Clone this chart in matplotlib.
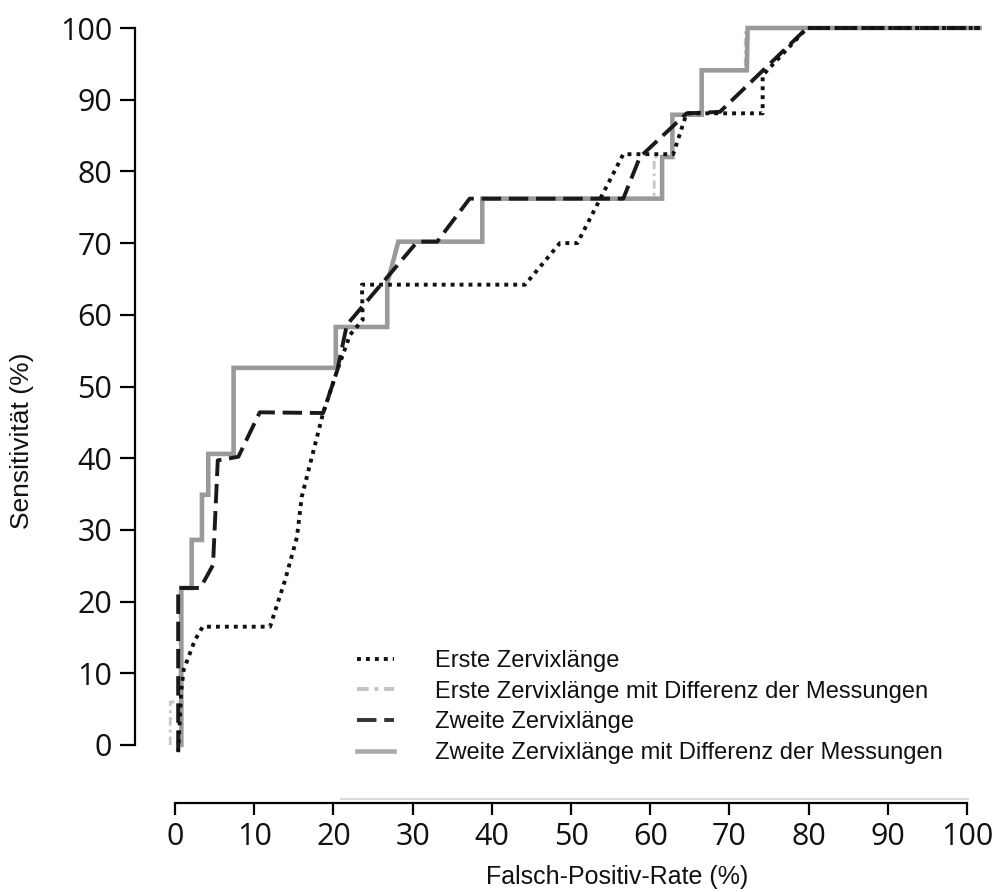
import matplotlib
matplotlib.use("Agg")
import matplotlib.pyplot as plt
from matplotlib.lines import Line2D

# ---- data (False-positive rate %, sensitivity %) ----
erste_x = [0.4, 0.8, 1.1, 2.5, 3.5, 12.0, 13.9, 15.4, 16.0, 18.7, 20.5, 22.1, 23.7, 23.6,
           44.2, 48.6, 50.8, 56.6, 62.9, 64.6, 74.2, 74.2, 79.8, 101.6]
erste_y = [-1.0, 7.7, 10.5, 14.6, 16.5, 16.5, 23.0, 29.0, 34.6, 46.3, 52.3, 57.2, 59.3, 64.2,
           64.2, 70.0, 70.0, 82.4, 82.4, 88.1, 88.1, 93.4, 100.0, 100.0]

erste_diff_x = [-0.6, -0.6, 0.6, 0.6, 2.1, 2.1, 3.4, 3.4, 4.2, 4.2, 7.4, 7.4, 20.3, 20.3,
                26.8, 26.8, 28.2, 38.8, 38.8, 60.5, 60.5, 62.8, 62.8, 66.5, 66.5, 72.0,
                72.0, 101.6]
erste_diff_y = [0.0, 6.0, 6.0, 21.9, 21.9, 28.6, 28.6, 34.9, 34.9, 40.6, 40.6, 52.6, 52.6,
                58.3, 58.3, 64.4, 70.2, 70.2, 76.2, 76.2, 82.0, 82.0, 87.9, 87.9, 94.1,
                94.1, 100.0, 100.0]

zweite_x = [0.4, 0.4, 3.2, 4.8, 5.4, 8.0, 10.7, 18.7, 20.5, 21.7, 30.6, 33.1, 37.2, 56.6,
            58.7, 64.6, 68.8, 79.8, 101.6]
zweite_y = [-0.7, 21.9, 21.9, 25.1, 39.7, 40.2, 46.4, 46.3, 52.3, 58.6, 70.2, 70.2, 76.2,
            76.2, 82.0, 88.1, 88.3, 100.0, 100.0]

zweite_diff_x = [0.8, 0.8, 2.1, 2.1, 3.4, 3.4, 4.2, 4.2, 7.4, 7.4, 20.3, 20.3, 26.8, 26.8,
                 28.2, 38.8, 38.8, 61.5, 61.5, 62.8, 62.8, 66.5, 66.5, 72.2, 72.3, 101.6]
zweite_diff_y = [0.0, 21.9, 21.9, 28.6, 28.6, 34.9, 34.9, 40.6, 40.6, 52.6, 52.6, 58.3,
                 58.3, 64.4, 70.2, 70.2, 76.2, 76.2, 82.0, 82.0, 87.9, 87.9, 94.1, 94.1,
                 100.0, 100.0]

labels = ["Erste Zervixlänge",
          "Erste Zervixlänge mit Differenz der Messungen",
          "Zweite Zervixlänge",
          "Zweite Zervixlänge mit Differenz der Messungen"]
ticks = [0, 10, 20, 30, 40, 50, 60, 70, 80, 90, 100]

# ---- figure ----
W, H = 1000, 892
fig = plt.figure(figsize=(W / 100, H / 100), dpi=100)
ax = fig.add_axes([0, 0, 1, 1])

# pixel mapping: x px = 175 + 7.92*x ; y px(from top) = 745 - 7.17*y
sx, x0 = 7.92, 175
sy, y0 = 7.17, 745
ax.set_xlim(-x0 / sx, (W - x0) / sx)
ax.set_ylim((y0 - H) / sy, y0 / sy)

dotted = (0, (1.0, 1.3))
dashed = (0, (5.0, 2.0))
dashdot = (0, (3, 1.5, 1, 1.5))

l2, = ax.plot(erste_diff_x, erste_diff_y, color="#c4c4c4", lw=2.0, ls=dashdot, zorder=2)
l4, = ax.plot(zweite_diff_x, zweite_diff_y, color="#9a9a9a", lw=3.3, zorder=3,
              solid_joinstyle="miter")
l3, = ax.plot(zweite_x, zweite_y, color="#1a1a1a", lw=2.8, ls=dashed, zorder=4)
l1, = ax.plot(erste_x, erste_y, color="#111111", lw=2.8, ls=dotted, zorder=5,
              dash_capstyle="butt")

# spines
for s in ["top", "right"]:
    ax.spines[s].set_visible(False)
ax.spines["left"].set_position(("data", (135 - x0) / sx))
ax.spines["left"].set_bounds(0, 100)
ax.spines["left"].set_linewidth(1.6)
ax.spines["bottom"].set_position(("data", (y0 - 803) / sy))
ax.spines["bottom"].set_bounds(0, 100)
ax.spines["bottom"].set_linewidth(1.6)

# faint gray line above the x axis
ax.hlines((y0 - 798.5) / sy, (340 - x0) / sx, 100.3, color="#d8d8d8", lw=1.5, zorder=1)

tick_font = ["Open Sans", "DejaVu Sans"]
ax.set_yticks(ticks)
ax.set_xticks(ticks)
ax.set_yticklabels([str(t) for t in ticks], fontfamily=tick_font,
                   fontsize=22, color="#111111")
ax.set_xticklabels([str(t) for t in ticks], fontfamily=tick_font,
                   fontsize=22, color="#111111")
ax.tick_params(axis="y", direction="out", length=10.5, width=1.6, pad=6)
ax.tick_params(axis="x", direction="out", length=8.5, width=1.6, pad=5)

label_font = ["Liberation Sans", "DejaVu Sans"]
ax.set_ylabel("Sensitivität (%)", fontfamily=label_font, fontsize=19, color="#111111")
ax.yaxis.set_label_coords(22 / W, 1 - 441 / H)
ax.yaxis.label.set_va("center")
ax.set_xlabel("Falsch-Positiv-Rate (%)", fontfamily=label_font, fontsize=18,
              color="#111111")
ax.xaxis.set_label_coords(617 / W, 1 - 877 / H)
ax.xaxis.label.set_va("center")

# legend
h1 = Line2D([], [], color="#111111", lw=2.8, ls=dotted)
h2 = Line2D([], [], color="#c4c4c4", lw=2.8, ls=dashdot)
h3 = Line2D([], [], color="#333333", lw=2.8, ls=dashed)
h4 = Line2D([], [], color="#aaaaaa", lw=3.3)
leg = ax.legend([h1, h2, h3, h4], labels, loc="upper left",
                bbox_to_anchor=(357 / W, 1 - 650 / H), bbox_transform=fig.transFigure,
                frameon=False, borderpad=0, borderaxespad=0, handlelength=1.55,
                handletextpad=1.75, labelspacing=0.37,
                prop={"family": label_font, "size": 17})
for t in leg.get_texts():
    t.set_color("#111111")

fig.savefig("out.png", dpi=100, facecolor="white")
